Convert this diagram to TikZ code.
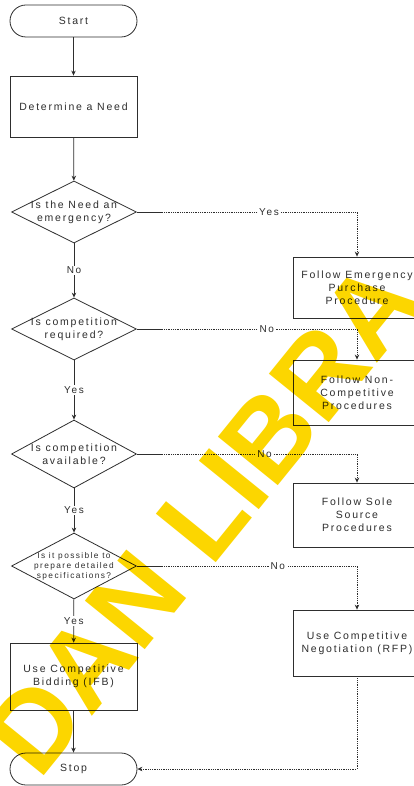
\documentclass[tikz,border=0pt]{standalone}
\usepackage{fontspec}
\setmainfont{Liberation Sans}[LetterSpace=17]
\newfontfamily\wmfont{Liberation Sans}[BoldFont={* Bold}]
\usetikzlibrary{shapes.geometric,arrows.meta}
\definecolor{ink}{rgb}{0.18,0.18,0.18}
\definecolor{wmyellow}{RGB}{252,214,0}
\tikzset{
  line/.style={draw=ink, line width=0.8pt},
  arr/.style={line, -{Stealth[length=5pt,width=4.5pt]}},
  dots/.style={draw=ink, line width=0.8pt, densely dotted, -{Stealth[length=5pt,width=4.5pt]}},
  term/.style={line, rectangle, rounded corners=16pt, minimum width=127pt, minimum height=32pt, inner sep=0pt},
  procbox/.style={line, rectangle, minimum width=127pt, inner sep=0pt},
  dec/.style={line, diamond, minimum width=125pt, inner sep=0pt},
  txt/.style={font=\fontsize{10.5}{13}\selectfont, text=ink, align=center, inner sep=0pt},
  smalltxt/.style={font=\fontsize{8.3}{10}\selectfont, text=ink, align=center, inner sep=0pt},
  lbl/.style={font=\fontsize{10}{12}\selectfont, text=ink, fill=white, inner sep=1.5pt},
}
\begin{document}
\begin{tikzpicture}[x=1pt,y=-1pt]
\useasboundingbox[fill=white] (0,0) rectangle (413,786);
% main column
\node[term] (start) at (73.5,21) {};
\node[txt] at (start) {Start};
\node[procbox, minimum height=61pt] (need) at (73.5,106.5) {};
\node[txt] at (need) {Determine a Need};
\node[dec, minimum height=62pt] (d1) at (74,212) {};
\node[txt] at (d1) {Is the Need an\\emergency?};
\node[dec, minimum height=62pt] (d2) at (74,329) {};
\node[txt] at (d2) {Is competition\\required?};
\node[dec, minimum height=68pt] (d3) at (74,454) {};
\node[txt] at (d3) {Is competition\\available?};
\node[dec, minimum height=66pt] (d4) at (74,566) {};
\node[smalltxt] at (d4) {Is it possible to\\prepare detailed\\specifications?};
\node[procbox, minimum height=67pt] (ifb) at (73.5,676.5) {};
\node[txt] at (ifb) {Use Competitive\\Bidding (IFB)};
\node[term] (stop) at (73.5,769) {};
\node[txt] at (stop) {Stop};
% right column
\node[procbox, minimum width=128pt, minimum height=61pt] (r1) at (357,287.5) {};
\node[txt] at (r1) {Follow Emergency\\Purchase\\Procedure};
\node[procbox, minimum width=128pt, minimum height=65pt] (r2) at (357,392.5) {};
\node[txt] at (r2) {Follow Non-\\Competitive\\Procedures};
\node[procbox, minimum width=128pt, minimum height=64pt] (r3) at (357,515) {};
\node[txt] at (r3) {Follow Sole\\Source\\Procedures};
\node[procbox, minimum width=128pt, minimum height=66pt] (r4) at (357,643) {};
\node[txt] at (r4) {Use Competitive\\Negotiation (RFP)};
% connectors
\draw[arr] (start) -- (need);
\draw[arr] (need) -- (d1);
\draw[arr] (d1) -- node[lbl] {No} (d2);
\draw[arr] (d2) -- node[lbl] {Yes} (d3);
\draw[arr] (d3) -- node[lbl] {Yes} (d4);
\draw[arr] (d4) -- node[lbl] {Yes} (ifb);
\draw[arr] (ifb) -- (stop);
\draw[dots] (d1.east) -| node[lbl, pos=0.3] {Yes} (r1.north);
\draw[dots] (d2.east) -| node[lbl, pos=0.295] {No} (r2.north);
\draw[dots] (d3.east) -| node[lbl, pos=0.29] {No} (r3.north);
\draw[dots] (d4.east) -| node[lbl, pos=0.32] {No} (r4.north);
\draw[line] (d1.east) -- ++(26,0);
\draw[line] (d2.east) -- ++(26,0);
\draw[line] (d3.east) -- ++(26,0);
\draw[line] (d4.east) -- ++(26,0);
\draw[dots] (r4.south) |- (stop.east);
% watermark
\begin{scope}[blend mode=multiply]
\node[font=\wmfont\bfseries\fontsize{112}{112}\selectfont, text=wmyellow, rotate=51, inner sep=0pt] (wm) at (203,518) {DAN LIBRA};
\end{scope}
\end{tikzpicture}
\end{document}
